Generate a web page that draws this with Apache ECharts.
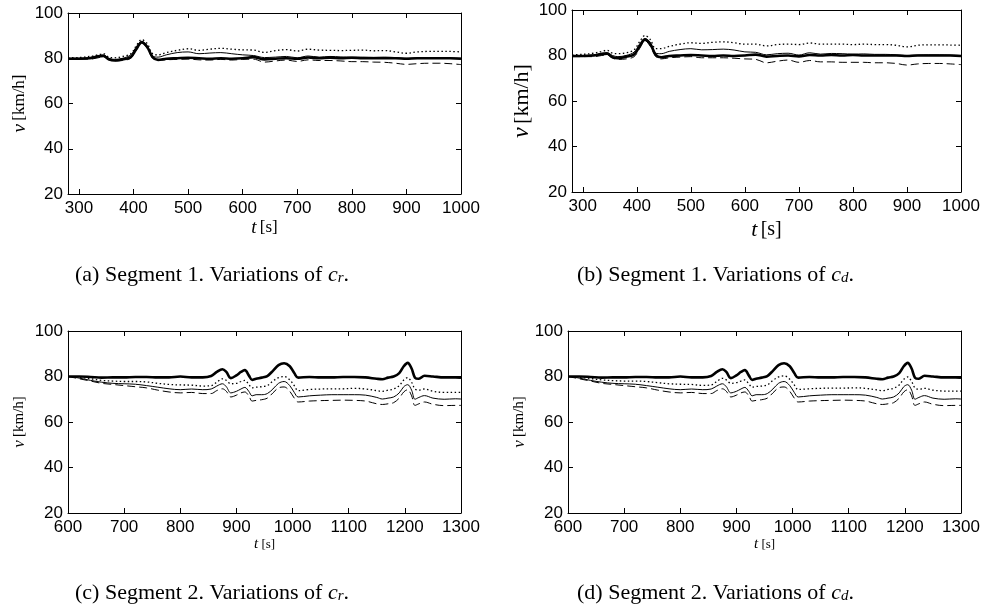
<!DOCTYPE html>
<html>
<head>
<meta charset="utf-8">
<script src="https://cdn.jsdelivr.net/npm/echarts@6/dist/echarts.min.js"></script>
<style>
html,body{margin:0;padding:0;background:#fff;}
#chart{width:985px;height:610px;}
</style>
</head>
<body>
<div id="chart"></div>
<script>
// ---------- DATA ----------
// Segment 1 time stamps [s]
var t1 = [280,300,320,335,345,355,365,380,395,405,415,425,435,445,460,480,500,520,540,560,580,600,620,640,660,680,700,720,740,760,780,800,820,840,860,880,900,920,940,960,980,1000];
// (a) Segment 1, variations of c_r  [km/h]
var aThick  = [79.8,79.8,80,80.8,81,79.5,79,79.5,80.5,84,87,85,80.5,79.3,79.8,80,80.2,80,79.8,80,79.8,80,80.5,79.5,79.8,80,79.8,80.3,80,80.2,80,80.2,80,80,80,80,79.8,80,80,80,80,79.8];
var aSolid  = [80,80,80.3,81.2,81.5,80,79.5,80,81.5,85,87.5,85.5,81,80.5,81.5,82.5,82.8,82,82.3,82.5,82,81.5,81.2,80.3,80.5,80.8,80.2,81,80.5,80.8,80.6,80.5,80.5,80.4,80.5,80.3,80,80.2,80.3,80.3,80.2,80];
var aDotted = [80.2,80.3,80.8,81.5,82,80.5,80.2,80.8,82,85.5,88.2,86.5,82,81.5,82.5,83.5,84.2,83.5,84,84.4,84,83.7,83.6,82.6,83.4,83.8,83.2,84,83.6,83.5,83.4,83.5,83.6,83.3,83.4,82.8,82.2,82.8,83,83,83,82.8];
var aDashed = [79.6,79.6,79.6,80.2,80.6,79.2,78.8,79,80,83.5,86.8,84.5,80,79,79.3,79.5,79.6,79.3,79.2,79.5,79.2,79.5,79.6,78.3,78.8,79.2,78.6,79.3,79,79,78.8,78.5,78.5,78.3,78.2,77.8,77.3,77.6,77.8,77.8,77.6,77.2];
// (b) Segment 1, variations of c_d
var bThick  = [79.8,79.8,80,80.6,80.8,79.3,78.8,79.5,80.5,84,87,85,80.3,79.2,79.8,80,80.2,80,79.8,80,79.8,80,80.4,79.5,79.8,80,79.6,80.2,80,80.2,80,80.2,80,80,80,80,79.8,80,80,80,80,79.8];
var bSolid  = [80,80,80.3,81,81.3,80,79.5,80,81.5,85,87.5,85.5,81,80.8,81.8,82.6,83,82.5,82.6,82.8,82.4,81.6,81.4,80.3,80.8,81,80.2,81.2,80.6,80.9,80.8,80.6,80.7,80.5,80.5,80.3,80,80.2,80.3,80.3,80.2,80];
var bDotted = [80.3,80.5,81,81.8,82.3,81,80.8,81.2,82.5,86,88.8,87,83,83,84,85,85.6,85.3,85.8,86,85.6,85,85,84.2,84.8,85,84.8,85.5,85,85,85,84.8,85,84.8,84.8,84.5,83.8,84.5,84.7,84.7,84.6,84.5];
var bDashed = [79.5,79.5,79.5,80,80.3,78.8,78.3,78.5,79.5,83,86.5,84,79.5,78.5,79,79.3,79.5,79,79,79,78.8,78.5,78.3,76.8,77.5,78,77,77.8,77.2,77.2,77,77,77,76.8,76.8,76.5,75.8,76.3,76.5,76.5,76.3,76];

// Segment 2 time stamps [s]
var t2 = [600,620,640,660,680,700,720,740,760,780,800,820,840,855,865,875,882,890,900,908,915,922,928,935,945,955,965,975,985,995,1003,1010,1030,1050,1070,1090,1110,1130,1150,1160,1170,1180,1190,1198,1205,1212,1218,1225,1235,1250,1270,1290,1300];
// (c) Segment 2, variations of c_r
var cThick  = [80,80,79.8,79.5,79.6,79.6,79.8,79.8,79.6,79.6,80,79.6,79.6,80.2,82,83.2,82,79.3,80.5,82,82.8,80.5,78.5,79,79.5,80.2,82.5,85,85.8,84.5,81.5,79.5,79.8,79.6,79.6,79.8,79.8,79.6,79,78.8,79.5,80,81.5,84.5,86,83.5,79.5,79,80.3,80,79.6,79.6,79.5];
var cDotted = [80,79.7,79,78.3,78,77.8,77.8,77.6,77,76.5,76.3,76.2,75.8,76,77.5,79,78.3,76.8,77,77.8,78.3,76.5,75,75.3,75.5,76,78,79.5,80,78.5,76,73.8,74.3,74.5,74.6,74.6,74.8,74.5,73.8,73.5,74,74.5,76,78.5,79.5,77.5,74.5,74,74.5,73.5,73,73,73];
var cSolid  = [80,79.3,78.3,77.5,77,76.8,76.6,76,75.3,74.6,74.2,74.5,74.2,74.5,75.8,76.8,75.5,72.8,73.5,74.5,75.2,73.5,71.5,72,72,72.5,74.5,77,77.8,76,73,71,71.5,71.8,72,72,72,71.8,70.8,70.1,70.5,71,72.8,75.5,76.4,74,70,70.8,71.6,70.5,70,70.2,70.1];
var cDashed = [80,79,78,77,76.5,76,75.5,75,74,73.2,72.8,73,72.5,72.5,73.8,74.6,73.5,71,71.8,72.8,73.2,71.5,69.2,69.5,69.8,70.5,72.8,75,75.4,73.5,70.5,68.8,69.2,69.4,69.5,69.6,69.5,69.2,68,67.7,68,68.5,70.5,73.2,74.2,71.5,67.3,68,68.8,67.8,67.2,67.3,67.3];
// (d) Segment 2, variations of c_d
var dThick  = [80,80,79.8,79.5,79.6,79.6,79.8,79.8,79.6,79.6,80,79.6,79.6,80.2,82,83.2,82,79.3,80.5,82,82.8,80.5,78.5,79,79.5,80.2,82.5,85,85.8,84.5,81.5,79.5,79.8,79.6,79.6,79.8,79.8,79.6,79,78.8,79.5,80,81.5,84.5,86,83.5,79.5,79,80.3,80,79.6,79.6,79.5];
var dDotted = [80,79.7,79.1,78.5,78.2,78,78,77.8,77.3,76.8,76.6,76.5,76.1,76.3,77.8,79.2,78.5,77,77.3,78,78.5,76.8,75.3,75.6,75.8,76.3,78.3,79.8,80.3,78.8,76.3,74.3,74.6,74.8,74.9,74.9,75,74.8,74.1,73.8,74.3,74.8,76.3,78.8,79.8,77.8,75,74.4,74.8,74,73.6,73.6,73.6];
var dSolid  = [80,79.3,78.3,77.5,77,76.8,76.6,76,75.3,74.6,74.2,74.5,74.2,74.5,75.8,76.8,75.5,72.8,73.5,74.5,75.2,73.5,71.5,72,72,72.5,74.5,77,77.8,76,73,71,71.5,71.8,72,72,72,71.8,70.8,70.1,70.5,71,72.8,75.5,76.4,74,70,70.8,71.6,70.5,70,70.2,70.1];
var dDashed = [80,79,78,77,76.5,76,75.5,75,74,73.2,72.8,73,72.5,72.5,73.8,74.6,73.5,71,71.8,72.8,73.2,71.5,69.2,69.5,69.8,70.5,72.8,75,75.4,73.5,70.5,68.8,69.2,69.4,69.5,69.6,69.5,69.2,68,67.7,68,68.5,70.5,73.2,74.2,71.5,67.3,68,68.8,67.8,67.2,67.3,67.3];

// Tick labels
var xTicks1 = [300,400,500,600,700,800,900,1000];
var xTicks2 = [600,700,800,900,1000,1100,1200,1300];
var yTicks  = [20,40,60,80,100];

// Captions
var captions = [
  ['(a) Segment 1. Variations of ', 'r'],
  ['(b) Segment 1. Variations of ', 'd'],
  ['(c) Segment 2. Variations of ', 'r'],
  ['(d) Segment 2. Variations of ', 'd']
];

// ---------- LAYOUT / STYLE ----------
var panels = [
  {grid:{left:68, top:13, width:393, height:181}, t:t1, min:280, max:1000, ticks:xTicks1, s:[aThick,aSolid,aDotted,aDashed], xName:17, yName:17, xGap:24, yGap:39, cap:[75,273]},
  {grid:{left:572, top:10, width:389, height:182}, t:t1, min:280, max:1000, ticks:xTicks1, s:[bThick,bSolid,bDotted,bDashed], xName:20, yName:22, xGap:27, yGap:38, cap:[577,273]},
  {grid:{left:68, top:331, width:393, height:182}, t:t2, min:600, max:1300, ticks:xTicks2, s:[cThick,cSolid,cDotted,cDashed], xName:13, yName:15, xGap:23, yGap:40, cap:[75,591]},
  {grid:{left:568, top:331, width:393, height:182}, t:t2, min:600, max:1300, ticks:xTicks2, s:[dThick,dSolid,dDotted,dDashed], xName:13, yName:15, xGap:23, yGap:40, cap:[577,591]}
];

var lineStyles = [
  {width:2.6, type:'solid'},
  {width:1, type:'solid'},
  {width:1.3, type:[1.5,2.5]},
  {width:1, type:[8,4]}
];

var labelFont = {fontFamily:'Liberation Sans', fontSize:17, color:'#000'};
var serif = 'Liberation Serif';
function plain(v){ return String(v); }

var grids = [], xAxes = [], yAxes = [], series = [], graphics = [];

panels.forEach(function(p, i){
  var g = Object.assign({outerBoundsMode:'none', containLabel:false}, p.grid);
  grids.push(g);
  var axLine = {show:true, onZero:false, lineStyle:{color:'#000', width:1}};
  var tick = {show:true, inside:true, length:5, lineStyle:{color:'#000', width:1}};
  // bottom x
  xAxes.push({
    type:'value', gridIndex:i, position:'bottom', min:p.min, max:p.max,
    axisLine:axLine, splitLine:{show:false},
    axisTick:Object.assign({customValues:p.ticks}, tick),
    axisLabel:Object.assign({customValues:p.ticks, margin:6, formatter:plain}, labelFont),
    name:'{i|t} {n|[s]}', nameLocation:'middle', nameGap:p.xGap,
    nameTextStyle:{rich:{
      i:{fontFamily:serif, fontStyle:'italic', fontSize:p.xName+2, color:'#000'},
      n:{fontFamily:serif, fontSize:p.xName, color:'#000'}
    }}
  });
  // top x
  xAxes.push({
    type:'value', gridIndex:i, position:'top', min:p.min, max:p.max,
    axisLine:axLine, splitLine:{show:false},
    axisTick:Object.assign({customValues:p.ticks}, tick),
    axisLabel:{show:false, customValues:p.ticks}
  });
  // left y
  yAxes.push({
    type:'value', gridIndex:i, position:'left', min:20, max:100, interval:20,
    axisLine:axLine, splitLine:{show:false}, axisTick:tick,
    axisLabel:Object.assign({margin:5, formatter:plain}, labelFont),
    name:'{i|v} {n|[km/h]}', nameLocation:'middle', nameGap:p.yGap,
    nameTextStyle:{rich:{
      i:{fontFamily:serif, fontStyle:'italic', fontSize:p.yName+2, color:'#000'},
      n:{fontFamily:serif, fontSize:p.yName, color:'#000'}
    }}
  });
  // right y
  yAxes.push({
    type:'value', gridIndex:i, position:'right', min:20, max:100, interval:20,
    axisLine:axLine, splitLine:{show:false}, axisTick:tick,
    axisLabel:{show:false}
  });
  p.s.forEach(function(vals, k){
    var data = p.t.map(function(tt, j){ return [tt, vals[j]]; });
    series.push({
      type:'line', xAxisIndex:2*i, yAxisIndex:2*i, data:data,
      showSymbol:false, smooth:0.35, silent:true, animation:false,
      lineStyle:{color:'#000', width:lineStyles[k].width, type:lineStyles[k].type},
      z: k===0 ? 5 : 3
    });
  });
  var c = captions[i];
  graphics.push({
    type:'text', x:p.cap[0], y:p.cap[1],
    style:{
      text:'{n|' + c[0] + '}{i|c}{s|' + c[1] + '}{n|.}',
      align:'left', verticalAlign:'middle',
      rich:{
        n:{fontFamily:serif, fontSize:22, fill:'#000', lineHeight:26, verticalAlign:'bottom'},
        i:{fontFamily:serif, fontStyle:'italic', fontSize:22, fill:'#000', lineHeight:26, verticalAlign:'bottom'},
        s:{fontFamily:serif, fontStyle:'italic', fontSize:15, fill:'#000', lineHeight:13, verticalAlign:'bottom'}
      }
    }
  });
});

var chart = echarts.init(document.getElementById('chart'), null, {renderer:'canvas'});
chart.setOption({
  animation:false,
  backgroundColor:'#fff',
  grid:grids, xAxis:xAxes, yAxis:yAxes, series:series, graphic:graphics
});
</script>
</body>
</html>
